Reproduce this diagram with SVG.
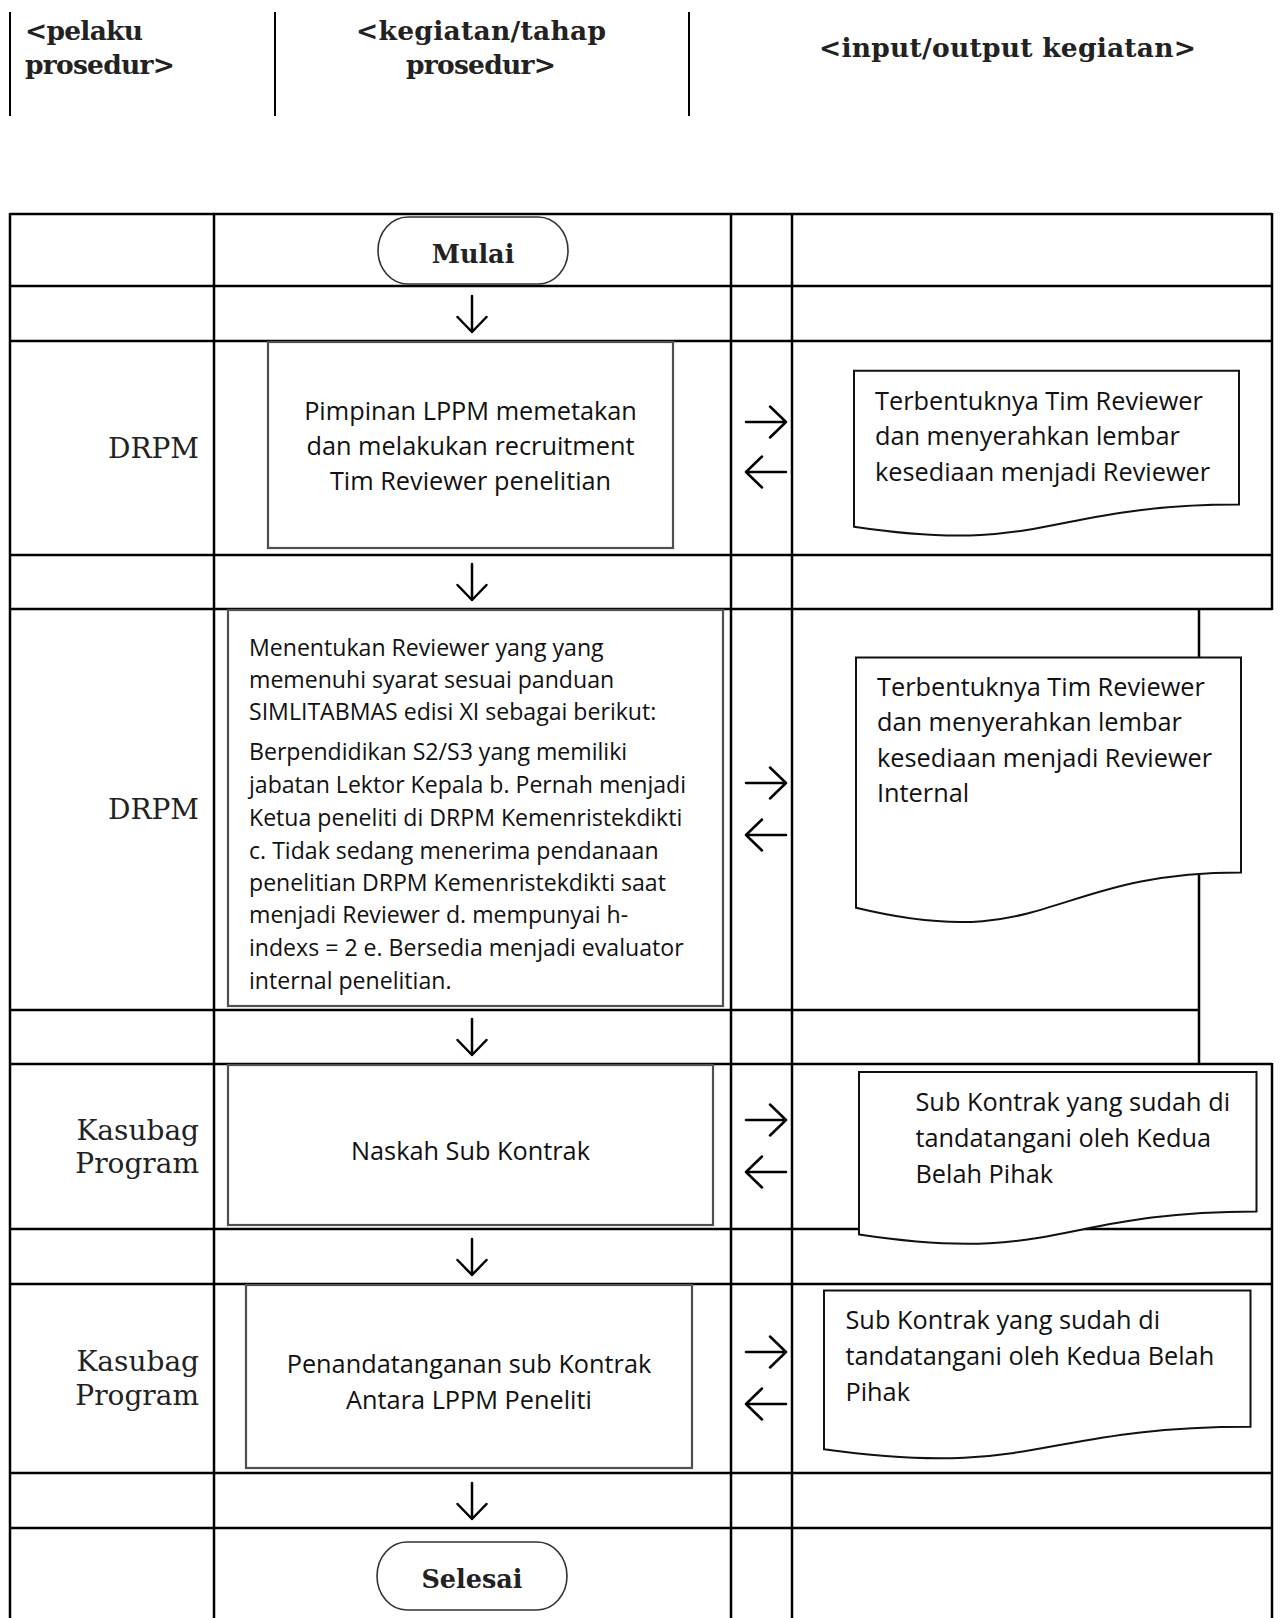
<svg xmlns="http://www.w3.org/2000/svg" width="1284" height="1618" viewBox="0 0 1284 1618">
<style>
.grid line{stroke:#000;stroke-width:2.5}
.hline{stroke:#000;stroke-width:2}
.box{fill:#fff;stroke:#505050;stroke-width:2.2}
.doc{fill:#fff;stroke:#111;stroke-width:2}
.term{fill:#fff;stroke:#333;stroke-width:1.6}
.t{font-family:"Open Sans",sans-serif;font-size:25.3px;fill:#111}
.ts{font-family:"Open Sans",sans-serif;font-size:23.1px;fill:#111}
.lane{font-family:"DejaVu Serif",serif;font-size:28px;fill:#222}
.hd{font-family:"DejaVu Serif",serif;font-weight:bold;font-size:25.5px;fill:#222}
.hh{font-family:"DejaVu Serif",serif;font-weight:bold;font-size:26.5px;fill:#222}
.arr{stroke:#000;stroke-width:2.5;fill:none;stroke-linecap:round;stroke-linejoin:round}
</style>
<rect width="1284" height="1618" fill="#fff"/>

<g id="header">
  <line class="hline" x1="10" y1="12" x2="10" y2="116"/>
  <line class="hline" x1="275" y1="12" x2="275" y2="116"/>
  <line class="hline" x1="689" y1="12" x2="689" y2="116"/>
  <text class="hh" x="25" y="40" textLength="118">&lt;pelaku</text>
  <text class="hh" x="25" y="74" textLength="150">prosedur&gt;</text>
  <text class="hh" x="356" y="40" textLength="250">&lt;kegiatan/tahap</text>
  <text class="hh" x="406" y="74" textLength="150">prosedur&gt;</text>
  <text class="hh" x="819" y="57" textLength="377">&lt;input/output kegiatan&gt;</text>
</g>

<g id="table" class="grid">
  <line x1="10" y1="214" x2="1272" y2="214"/>
  <line x1="10" y1="286" x2="1272" y2="286"/>
  <line x1="10" y1="341" x2="1272" y2="341"/>
  <line x1="10" y1="555" x2="1272" y2="555"/>
  <line x1="10" y1="609" x2="1272" y2="609"/>
  <line x1="10" y1="1010" x2="1199" y2="1010"/>
  <line x1="10" y1="1064" x2="1272" y2="1064"/>
  <line x1="10" y1="1229" x2="1272" y2="1229"/>
  <line x1="10" y1="1284" x2="1272" y2="1284"/>
  <line x1="10" y1="1473" x2="1272" y2="1473"/>
  <line x1="10" y1="1528" x2="1272" y2="1528"/>
  <line x1="10" y1="213" x2="10" y2="1618"/>
  <line x1="214" y1="213" x2="214" y2="1618"/>
  <line x1="731" y1="213" x2="731" y2="1618"/>
  <line x1="792" y1="213" x2="792" y2="1618"/>
  <line x1="1272" y1="213" x2="1272" y2="610"/>
  <line x1="1272" y1="1063" x2="1272" y2="1618"/>
  <line x1="1199" y1="609" x2="1199" y2="1065"/>
</g>

<g id="lanes">
  <text class="lane" x="199" y="458" text-anchor="end">DRPM</text>
  <text class="lane" x="199" y="819" text-anchor="end">DRPM</text>
  <text class="lane" x="199" y="1140" text-anchor="end">Kasubag</text>
  <text class="lane" x="199" y="1173" text-anchor="end">Program</text>
  <text class="lane" x="199" y="1371" text-anchor="end">Kasubag</text>
  <text class="lane" x="199" y="1405" text-anchor="end">Program</text>
</g>

<g id="connectors" class="arr">
  <path d="M472,296 V332 M457.5,317 L472,332 L486.5,317"/>
  <path d="M472,564 V600 M457.5,585 L472,600 L486.5,585"/>
  <path d="M472,1019 V1055 M457.5,1040 L472,1055 L486.5,1040"/>
  <path d="M472,1239 V1275 M457.5,1260 L472,1275 L486.5,1260"/>
  <path d="M472,1483 V1519 M457.5,1504 L472,1519 L486.5,1504"/>
  <path d="M746,422 H786 M770,406.5 L786,422 L770,437.5"/>
  <path d="M786,472 H746 M762,456.5 L746,472 L762,487.5"/>
  <path d="M746,783 H786 M770,767.5 L786,783 L770,798.5"/>
  <path d="M786,835 H746 M762,819.5 L746,835 L762,850.5"/>
  <path d="M746,1120 H786 M770,1104.5 L786,1120 L770,1135.5"/>
  <path d="M786,1172 H746 M762,1156.5 L746,1172 L762,1187.5"/>
  <path d="M746,1352 H786 M770,1336.5 L786,1352 L770,1367.5"/>
  <path d="M786,1404 H746 M762,1388.5 L746,1404 L762,1419.5"/>
</g>

<g id="mulai">
  <rect class="term" x="378" y="217" width="190" height="67" rx="30" ry="33.5"/>
  <text class="hd" x="473" y="263" text-anchor="middle">Mulai</text>
</g>

<g id="proses1">
  <rect class="box" x="268" y="342" width="405" height="206"/>
  <text class="t" x="470.5" y="420" text-anchor="middle">Pimpinan LPPM memetakan</text>
  <text class="t" x="470.5" y="455" text-anchor="middle">dan melakukan recruitment</text>
  <text class="t" x="470.5" y="490" text-anchor="middle">Tim Reviewer penelitian</text>
</g>

<g id="dokumen1">
  <path class="doc" d="M854,370.7 H1239 V504.6 C1046.5,504.6 1046.5,555.6 854,526.7 Z"/>
  <text class="t" x="875" y="409.5">Terbentuknya Tim Reviewer</text>
  <text class="t" x="875" y="444.8">dan menyerahkan lembar</text>
  <text class="t" x="875" y="480.5">kesediaan menjadi Reviewer</text>
</g>

<g id="proses2">
  <rect class="box" x="228" y="610" width="495" height="396"/>
  <text class="ts" x="249" y="655.5">Menentukan Reviewer yang yang</text>
  <text class="ts" x="249" y="687.5">memenuhi syarat sesuai panduan</text>
  <text class="ts" x="249" y="720">SIMLITABMAS edisi XI sebagai berikut:</text>
  <text class="ts" x="249" y="759.5">Berpendidikan S2/S3 yang memiliki</text>
  <text class="ts" x="249" y="792.5">jabatan Lektor Kepala b. Pernah menjadi</text>
  <text class="ts" x="249" y="825.5">Ketua peneliti di DRPM Kemenristekdikti</text>
  <text class="ts" x="249" y="858.5">c. Tidak sedang menerima pendanaan</text>
  <text class="ts" x="249" y="891">penelitian DRPM Kemenristekdikti saat</text>
  <text class="ts" x="249" y="923">menjadi Reviewer d. mempunyai h-</text>
  <text class="ts" x="249" y="955.5">indexs = 2 e. Bersedia menjadi evaluator</text>
  <text class="ts" x="249" y="988.5">internal penelitian.</text>
</g>

<g id="dokumen2">
  <path class="doc" d="M856,657.5 H1241 V872.4 C1048.5,872.4 1048.5,954.3 856,907.8 Z"/>
  <text class="t" x="877" y="695.5">Terbentuknya Tim Reviewer</text>
  <text class="t" x="877" y="731">dan menyerahkan lembar</text>
  <text class="t" x="877" y="766.5">kesediaan menjadi Reviewer</text>
  <text class="t" x="877" y="802">Internal</text>
</g>

<g id="proses3">
  <rect class="box" x="228" y="1065" width="485" height="160"/>
  <text class="t" x="470.5" y="1160" text-anchor="middle">Naskah Sub Kontrak</text>
</g>

<g id="dokumen3">
  <path class="doc" d="M859,1072 H1256.5 V1211.5 C1057.7,1211.5 1057.7,1264.7 859,1234.5 Z"/>
  <text class="t" x="915.5" y="1111">Sub Kontrak yang sudah di</text>
  <text class="t" x="915.5" y="1147">tandatangani oleh Kedua</text>
  <text class="t" x="915.5" y="1182.5">Belah Pihak</text>
</g>

<g id="proses4">
  <rect class="box" x="246" y="1285" width="446" height="183"/>
  <text class="t" x="469" y="1373" text-anchor="middle">Penandatanganan sub Kontrak</text>
  <text class="t" x="469" y="1409" text-anchor="middle">Antara LPPM Peneliti</text>
</g>

<g id="dokumen4">
  <path class="doc" d="M824,1290.5 H1250.5 V1426.8 C1037.2,1426.8 1037.2,1478.8 824,1449.3 Z"/>
  <text class="t" x="845.5" y="1329">Sub Kontrak yang sudah di</text>
  <text class="t" x="845.5" y="1365">tandatangani oleh Kedua Belah</text>
  <text class="t" x="845.5" y="1401">Pihak</text>
</g>

<g id="selesai">
  <rect class="term" x="377" y="1542" width="190" height="68" rx="30" ry="34"/>
  <text class="hd" x="472" y="1588" text-anchor="middle">Selesai</text>
</g>
</svg>
